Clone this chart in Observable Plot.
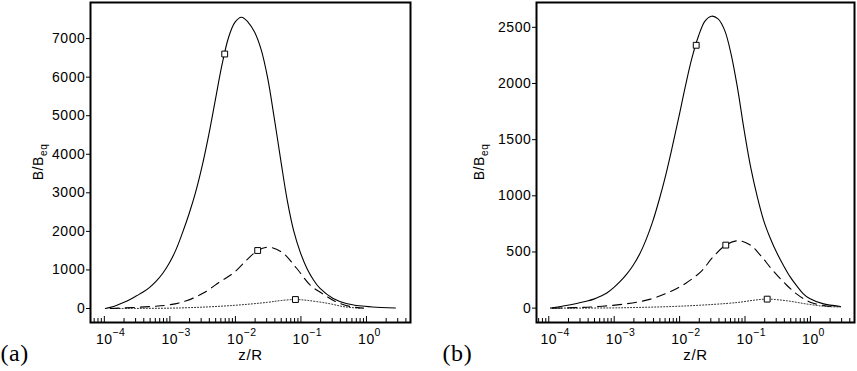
<!DOCTYPE html>
<html><head><meta charset="utf-8">
<script src="https://cdn.jsdelivr.net/npm/d3@7"></script>
<script src="https://cdn.jsdelivr.net/npm/@observablehq/plot@0.6"></script>
<style>
body{margin:0;background:#fff;}
#wrap{position:relative;width:857px;height:371px;overflow:hidden;}
#wrap svg{position:absolute;top:0;}
</style></head><body><div id="wrap"></div>
<script>
// ---- tick labels ----
const majorTicks = [1e-4, 1e-3, 1e-2, 1e-1, 1];
const majorBase = ["10", "10", "10", "10", "10"];
const majorExp = ["\u22124", "\u22123", "\u22122", "\u22121", "0"];
const yTicksA = [0, 1000, 2000, 3000, 4000, 5000, 6000, 7000];
const yTicksB = [0, 500, 1000, 1500, 2000, 2500];

// ---- panel (a): x values given as log10(z/R) ----
const logzSolidA = [-3.985, -3.908, -3.808, -3.708, -3.608, -3.508, -3.408, -3.308, -3.208, -3.108, -3.008, -2.908, -2.808, -2.708, -2.608, -2.508, -2.408, -2.308, -2.208, -2.108, -2.008, -1.908,
  -1.808, -1.708, -1.608, -1.508, -1.408, -1.308, -1.208, -1.108, -1.008, -0.908, -0.808, -0.708, -0.508, -0.308, -0.108, 0.092, 0.442];
const bSolidA = [0, 30, 85, 155, 235, 330, 426, 549, 709, 914, 1180, 1520, 1960, 2450, 3010, 3690, 4490, 5390, 6290, 7010, 7420, 7555,
  7430, 7170, 6720, 5980, 4950, 3850, 2800, 2000, 1450, 1040, 740, 520, 260, 130, 70, 40, 15];
const logzDashA = [-3.908, -3.298, -2.992, -2.748, -2.489, -2.229, -2.031, -1.802, -1.660, -1.492, -1.282, -1.069, -0.855, -0.656, -0.473, -0.244, -0.046];
const bDashA = [0, 50, 100, 200, 400, 700, 920, 1300, 1504, 1590, 1450, 1050, 600, 370, 180, 50, 10];
const logzDotA = [-3.908, -2.840, -2.076, -1.511, -1.313, -1.084, -0.901, -0.595, -0.321, -0.092];
const bDotA = [0, 15, 75, 160, 205, 233, 210, 135, 40, 10];
const logzMarkA = [-2.163, -1.660, -1.084];
const bMarkA = [6600, 1504, 233];

// ---- panel (b) ----
const logzSolidB = [-3.974, -3.712, -3.512, -3.412, -3.312, -3.212, -3.112, -3.012, -2.912, -2.812, -2.712, -2.612, -2.512, -2.412, -2.312, -2.212, -2.112, -2.012, -1.912, -1.812, -1.712, -1.612, -1.512,
  -1.412, -1.312, -1.212, -1.112, -1.012, -0.912, -0.812, -0.712, -0.612, -0.512, -0.412, -0.312, -0.212, -0.112, -0.012, 0.188, 0.46];
const bSolidB = [0, 25, 50, 63, 80, 105, 135, 180, 235, 300, 380, 480, 610, 770, 965, 1185, 1435, 1700, 1975, 2225, 2420, 2555, 2599,
  2575, 2475, 2260, 1950, 1580, 1250, 990, 775, 620, 490, 380, 280, 200, 130, 85, 40, 15];
const logzDashB = [-3.94, -3.36, -2.797, -2.445, -2.170, -1.910, -1.665, -1.497, -1.294, -1.095, -0.916, -0.763, -0.595, -0.381, -0.197, 0.032, 0.307];
const bDashB = [0, 10, 40, 80, 140, 220, 330, 450, 561, 600, 560, 470, 350, 215, 120, 45, 15];
const logzDotB = [-3.94, -2.904, -1.884, -1.119, -0.870, -0.661, -0.355, -0.049, 0.231, 0.460];
const bDotB = [0, 3, 20, 50, 70, 80, 65, 36, 15, 10];
const logzMarkB = [-1.746, -1.294, -0.661];
const bMarkB = [2340, 561, 80];

const rows = (ls, bs) => ls.map((l, i) => ({z: Math.pow(10, l), b: bs[i]}));

function panel({left, width, marginLeft, marginRight, xDomain, yDomain, yTicks, solid, dash, dot, marks, tag, tagDx, yLabelOffset}) {
  const marginTop = 2, marginBottom = 49, height = 371;
  const frameH = height - marginTop - marginBottom;
  const lo = Math.log10(xDomain[0]), hi = Math.log10(xDomain[1]);
  const minor = [];
  for (let k = Math.floor(lo); k <= Math.ceil(hi); k++)
    for (let m = 2; m <= 9; m++) {
      const v = m * Math.pow(10, k);
      if (v >= xDomain[0] && v <= xDomain[1]) minor.push(v);
    }
  const font = "'Liberation Sans', Arial, Helvetica, sans-serif";
  const curve = "catmull-rom";
  const svg = Plot.plot({
    width, height, marginLeft, marginRight, marginTop, marginBottom,
    style: {fontFamily: font, fontSize: "14px", color: "black", background: "white", letterSpacing: "0.6px", overflow: "visible"},
    x: {type: "log", domain: xDomain, axis: null},
    y: {domain: yDomain, axis: null},
    marks: [
      Plot.axisY(yTicks, {tickSize: 4, tickPadding: 1, label: null, fontSize: 14, tickFormat: "d"}),
      Plot.tickX(minor, {x: d => d, insetTop: frameH - 4, stroke: "black", strokeWidth: 1}),
      Plot.tickX(majorTicks, {x: d => d, insetTop: frameH - 6, stroke: "black", strokeWidth: 1}),
      Plot.text(majorTicks, {x: d => d, text: (d, i) => majorBase[i], frameAnchor: "bottom", lineAnchor: "bottom", dy: 21, fontSize: 14}),
      Plot.text(majorTicks, {x: d => d, text: (d, i) => majorExp[i], frameAnchor: "bottom", lineAnchor: "bottom", textAnchor: "start", dx: 8, dy: 13, fontSize: 10.5}),
      Plot.text(["z/R"], {frameAnchor: "bottom", lineAnchor: "bottom", dy: 37, fontSize: 15}),
      Plot.text([tag], {frameAnchor: "bottom-left", textAnchor: "start", lineAnchor: "bottom", dx: -marginLeft + tagDx, dy: 38, fontSize: 24, fontFamily: "'Liberation Serif', 'Times New Roman', serif"}),
      Plot.line(solid, {x: "z", y: "b", curve, stroke: "black", strokeWidth: 1.1}),
      Plot.line(dash, {x: "z", y: "b", curve, stroke: "black", strokeWidth: 1.1, strokeDasharray: "9,6"}),
      Plot.line(dot, {x: "z", y: "b", curve, stroke: "black", strokeWidth: 0.9, strokeDasharray: "1,2"}),
      Plot.dot(marks, {x: "z", y: "b", symbol: "square", r: 3.3, fill: "white", stroke: "black", strokeWidth: 1}),
      Plot.frame({stroke: "black", strokeWidth: 2})
    ]
  });
  svg.style.left = left + "px";
  // y-axis label with subscript
  const yr = svg.scale("y").range;
  const cy = (yr[0] + yr[1]) / 2;
  const t = d3.select(svg).append("text")
    .attr("transform", `translate(${marginLeft - yLabelOffset},${cy}) rotate(-90)`)
    .attr("text-anchor", "middle").attr("font-size", 14).attr("fill", "black");
  t.append("tspan").text("B/B");
  t.append("tspan").attr("font-size", 10).attr("dy", 4).text("eq");
  return svg;
}

const wrap = document.getElementById("wrap");
wrap.appendChild(panel({
  left: 0, width: 430, marginLeft: 90, marginRight: 20,
  xDomain: [6.15e-5, 4.7], yDomain: [-363, 7936], yTicks: yTicksA,
  solid: rows(logzSolidA, bSolidA), dash: rows(logzDashA, bDashA), dot: rows(logzDotA, bDotA),
  marks: rows(logzMarkA, bMarkA), tag: "(a)", tagDx: 0, yLabelOffset: 47
}));
wrap.appendChild(panel({
  left: 430, width: 427, marginLeft: 106, marginRight: 3,
  xDomain: [6.49e-5, 4.72], yDomain: [-128, 2721], yTicks: yTicksB,
  solid: rows(logzSolidB, bSolidB), dash: rows(logzDashB, bDashB), dot: rows(logzDotB, bDotB),
  marks: rows(logzMarkB, bMarkB), tag: "(b)", tagDx: 12, yLabelOffset: 52
}));
</script></body></html>
